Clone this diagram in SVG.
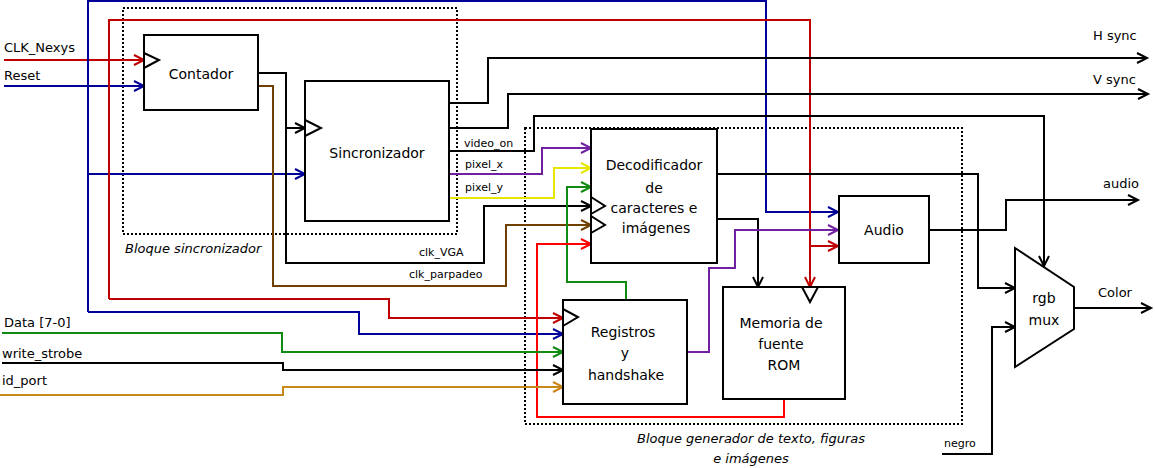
<svg xmlns="http://www.w3.org/2000/svg" width="1155" height="468" viewBox="0 0 1155 468">
<style>
.box{fill:#fff;stroke:#000;stroke-width:2}
.clk{fill:none;stroke:#000;stroke-width:2}
.dot{fill:none;stroke:#000;stroke-width:2;stroke-dasharray:2 2}
.w{fill:none;stroke-width:2}
.t{font-family:"DejaVu Sans",Verdana,sans-serif;font-size:14px;fill:#000}
.c{text-anchor:middle}
.s{font-size:11px}
.l{font-size:13px}
.i{font-style:italic;font-size:13px}
.k{stroke:#000}.r{stroke:#c00000}.b{stroke:#000099}.br{stroke:#704000}.g{stroke:#108a10}.y{stroke:#e6e600}.p{stroke:#7020a0}.o{stroke:#c8881a}.rr{stroke:#ff0000}
</style>
<defs>
<marker id="ak" markerUnits="userSpaceOnUse" markerWidth="14" markerHeight="14" refX="11" refY="6" orient="auto" viewBox="0 0 14 14"><path d="M1,1 L11,6 L1,11" fill="none" stroke="#000" stroke-width="2"/></marker>
<marker id="ar" markerUnits="userSpaceOnUse" markerWidth="14" markerHeight="14" refX="11" refY="6" orient="auto" viewBox="0 0 14 14"><path d="M1,1 L11,6 L1,11" fill="none" stroke="#c00000" stroke-width="2"/></marker>
<marker id="ab" markerUnits="userSpaceOnUse" markerWidth="14" markerHeight="14" refX="11" refY="6" orient="auto" viewBox="0 0 14 14"><path d="M1,1 L11,6 L1,11" fill="none" stroke="#000099" stroke-width="2"/></marker>
<marker id="abr" markerUnits="userSpaceOnUse" markerWidth="14" markerHeight="14" refX="11" refY="6" orient="auto" viewBox="0 0 14 14"><path d="M1,1 L11,6 L1,11" fill="none" stroke="#704000" stroke-width="2"/></marker>
<marker id="ag" markerUnits="userSpaceOnUse" markerWidth="14" markerHeight="14" refX="11" refY="6" orient="auto" viewBox="0 0 14 14"><path d="M1,1 L11,6 L1,11" fill="none" stroke="#108a10" stroke-width="2"/></marker>
<marker id="ay" markerUnits="userSpaceOnUse" markerWidth="14" markerHeight="14" refX="11" refY="6" orient="auto" viewBox="0 0 14 14"><path d="M1,1 L11,6 L1,11" fill="none" stroke="#e6e600" stroke-width="2"/></marker>
<marker id="ap" markerUnits="userSpaceOnUse" markerWidth="14" markerHeight="14" refX="11" refY="6" orient="auto" viewBox="0 0 14 14"><path d="M1,1 L11,6 L1,11" fill="none" stroke="#7020a0" stroke-width="2"/></marker>
<marker id="ao" markerUnits="userSpaceOnUse" markerWidth="14" markerHeight="14" refX="11" refY="6" orient="auto" viewBox="0 0 14 14"><path d="M1,1 L11,6 L1,11" fill="none" stroke="#c8881a" stroke-width="2"/></marker>
<marker id="arr" markerUnits="userSpaceOnUse" markerWidth="14" markerHeight="14" refX="11" refY="6" orient="auto" viewBox="0 0 14 14"><path d="M1,1 L11,6 L1,11" fill="none" stroke="#ff0000" stroke-width="2"/></marker>
</defs>
<rect width="1155" height="468" fill="#fff"/>

<g id="bloque-sincronizador">
<rect class="dot" x="123" y="8" width="334" height="226"/>
<text class="t i" x="125" y="253">Bloque sincronizador</text>
</g>
<g id="bloque-generador">
<rect class="dot" x="525" y="128" width="437" height="296"/>
<text class="t i c" x="751" y="443">Bloque generador de texto, figuras</text>
<text class="t i c" x="751" y="463">e imágenes</text>
</g>

<g id="connectors">
<path class="w r" d="M4,60 H144" marker-end="url(#ar)"/>
<path class="w b" d="M4,86 H144" marker-end="url(#ab)"/>
<path class="w b" d="M88,312 V1 H766 V212 H838" marker-end="url(#ab)"/>
<path class="w b" d="M88,174 H305" marker-end="url(#ab)"/>
<path class="w b" d="M88,312 H359 V334 H563" marker-end="url(#ab)"/>
<path class="w r" d="M109,299 V20 H810 V287" marker-end="url(#ar)"/>
<path class="w r" d="M810,246 H838" marker-end="url(#ar)"/>
<path class="w r" d="M109,299 H389 V318 H563" marker-end="url(#ar)"/>
<path class="w k" d="M258,73 H286 V263 H484 V206 H591" marker-end="url(#ak)"/>
<path class="w k" d="M286,128 H305" marker-end="url(#ak)"/>
<path class="w br" d="M258,86 H273 V286 H506 V225 H591" marker-end="url(#abr)"/>
<path class="w k" d="M449,103 H488 V58 H1147" marker-end="url(#ak)"/>
<path class="w k" d="M449,128 H508 V94 H1148" marker-end="url(#ak)"/>
<path class="w k" d="M449,151 H534 V116 H1044 V266" marker-end="url(#ak)"/>
<path class="w p" d="M449,174 H542 V148 H591" marker-end="url(#ap)"/>
<path class="w y" d="M449,198 H554 V168 H591" marker-end="url(#ay)"/>
<path class="w g" d="M626,300 V282 H567 V187 H591" marker-end="url(#ag)"/>
<path class="w rr" d="M784,399 V417 H537 V244 H591" marker-end="url(#arr)"/>
<path class="w k" d="M717,174 H978 V288 H1015" marker-end="url(#ak)"/>
<path class="w k" d="M717,219 H758 V287" marker-end="url(#ak)"/>
<path class="w p" d="M687,352 H709 V268 H735 V230 H838" marker-end="url(#ap)"/>
<path class="w k" d="M929,230 H1006 V200 H1138" marker-end="url(#ak)"/>
<path class="w k" d="M1074,308 H1151" marker-end="url(#ak)"/>
<path class="w k" d="M942,454 H992 V327 H1015" marker-end="url(#ak)"/>
<path class="w g" d="M2,333 H282 V352 H563" marker-end="url(#ag)"/>
<path class="w k" d="M2,363 H283 V370 H563" marker-end="url(#ak)"/>
<path class="w o" d="M0,395 H283 V387 H563" marker-end="url(#ao)"/>
</g>

<g id="labels">
<text class="t l" x="4" y="52">CLK_Nexys</text>
<text class="t l" x="4" y="80">Reset</text>
<text class="t s" x="464" y="147">video_on</text>
<text class="t s" x="465" y="168">pixel_x</text>
<text class="t s" x="465" y="191">pixel_y</text>
<text class="t s" x="419" y="256">clk_VGA</text>
<text class="t s" x="409" y="278">clk_parpadeo</text>
<text class="t l" x="1093" y="40">H sync</text>
<text class="t l" x="1093" y="84">V sync</text>
<text class="t l" x="1103" y="188">audio</text>
<text class="t l" x="1098" y="297">Color</text>
<text class="t s" x="944" y="447">negro</text>
<text class="t l" x="4" y="327">Data [7-0]</text>
<text class="t l" x="2" y="358">write_strobe</text>
<text class="t l" x="2" y="385">id_port</text>
</g>

<g id="contador">
<rect class="box" x="144" y="35" width="114" height="75"/>
<path class="clk" d="M144,53 L159,60 L144,68"/>
<text class="t c" x="201" y="79">Contador</text>
</g>
<g id="sincronizador">
<rect class="box" x="305" y="81" width="144" height="140"/>
<path class="clk" d="M305,120 L321,128 L305,136"/>
<text class="t c" x="377" y="158">Sincronizador</text>
</g>
<g id="decodificador">
<rect class="box" x="591" y="129" width="126" height="134"/>
<path class="clk" d="M591,197 L605,206 L591,214 M591,216 L605,225 L591,233"/>
<text class="t c" x="654" y="170">Decodificador</text>
<text class="t c" x="654" y="193">de</text>
<text class="t c" x="654" y="213">caracteres e</text>
<text class="t c" x="656" y="233">imágenes</text>
</g>
<g id="audio">
<rect class="box" x="839" y="196" width="90" height="67"/>
<text class="t c" x="884" y="235">Audio</text>
</g>
<g id="registros">
<rect class="box" x="563" y="300" width="124" height="104"/>
<path class="clk" d="M563,309 L578,317 L563,326"/>
<text class="t c" x="623" y="337">Registros</text>
<text class="t c" x="625" y="358">y</text>
<text class="t c" x="626" y="380">handshake</text>
</g>
<g id="memoria">
<rect class="box" x="723" y="287" width="122" height="112"/>
<path class="clk" d="M802,287 L810,302 L818,287"/>
<text class="t c" x="781" y="328">Memoria de</text>
<text class="t c" x="781" y="349">fuente</text>
<text class="t c" x="784" y="370">ROM</text>
</g>
<g id="rgb-mux">
<path class="box" d="M1015,248 L1074,287 L1074,329 L1015,367 Z"/>
<text class="t c" x="1044" y="303">rgb</text>
<text class="t c" x="1044" y="325">mux</text>
</g>
</svg>
